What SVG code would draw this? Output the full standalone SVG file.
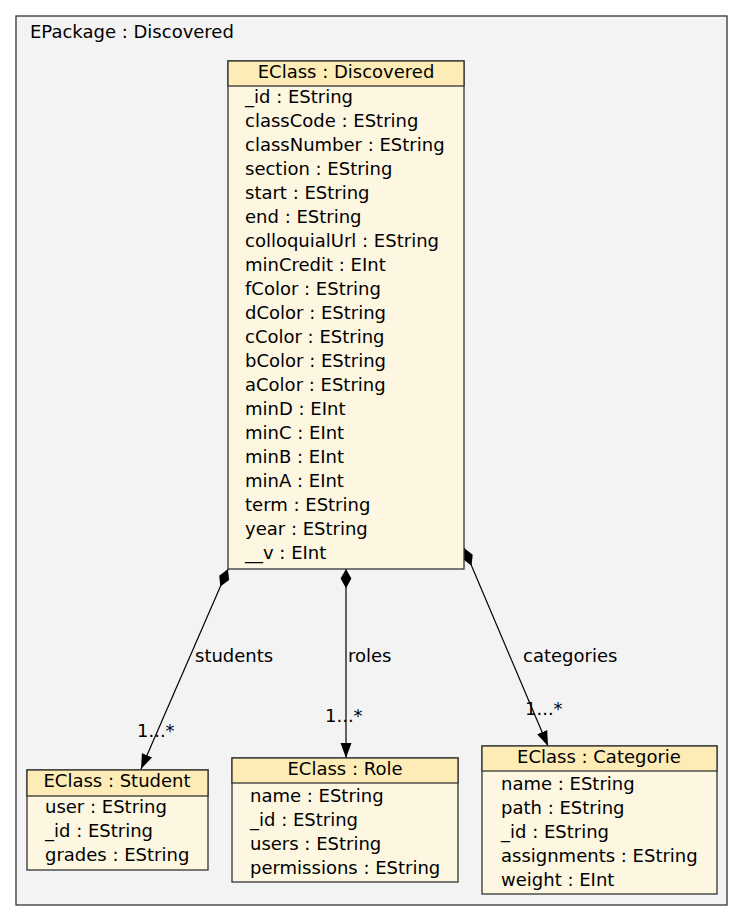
<svg xmlns="http://www.w3.org/2000/svg" width="744" height="921" viewBox="0 0 744 921">
<style>
text{font-family:"DejaVu Sans","Liberation Sans",sans-serif;font-size:18px;fill:#000}
.hdr{fill:#fdecb5;stroke:#333;stroke-width:1.3}
.body{fill:#fdf6e0;stroke:#333;stroke-width:1.3}
.mid{text-anchor:middle}
.conn{stroke:#000;stroke-width:1.2;fill:none}
</style>
<defs>
<marker id="dia" markerUnits="userSpaceOnUse" markerWidth="20" markerHeight="12" refX="0" refY="5" orient="auto" viewBox="0 0 16 10"><path d="M0,5 L8,0.5 L16,5 L8,9.5 z" fill="#000"/></marker>
<marker id="arr" markerUnits="userSpaceOnUse" markerWidth="16" markerHeight="12" refX="15" refY="6" orient="auto" viewBox="0 0 16 12"><path d="M0,0.5 L15,6 L0,11.5 z" fill="#000"/></marker>
</defs>
<g id="package">
<rect x="16" y="16" width="711" height="889" fill="#f3f3f3" stroke="#333" stroke-width="1.3"/>
<text x="30" y="38">EPackage : Discovered</text>
</g>
<g id="connectors">
<line class="conn" x1="228" y1="569" x2="141" y2="769" marker-start="url(#dia)" marker-end="url(#arr)"/>
<line class="conn" x1="346" y1="569" x2="346" y2="758" marker-start="url(#dia)" marker-end="url(#arr)"/>
<line class="conn" x1="464" y1="548" x2="548" y2="746" marker-start="url(#dia)" marker-end="url(#arr)"/>
<text x="195" y="662">students</text>
<text x="137" y="737">1...*</text>
<text x="348" y="662">roles</text>
<text x="325" y="722">1...*</text>
<text x="523" y="662">categories</text>
<text x="525" y="715">1...*</text>
</g>
<g id="Discovered">
<rect class="body" x="228" y="61" width="236" height="508"/>
<rect class="hdr" x="228" y="61" width="236" height="25"/>
<text class="mid" x="346" y="78">EClass : Discovered</text>
<text x="245" y="103">_id : EString</text>
<text x="245" y="127">classCode : EString</text>
<text x="245" y="151">classNumber : EString</text>
<text x="245" y="175">section : EString</text>
<text x="245" y="199">start : EString</text>
<text x="245" y="223">end : EString</text>
<text x="245" y="247">colloquialUrl : EString</text>
<text x="245" y="271">minCredit : EInt</text>
<text x="245" y="295">fColor : EString</text>
<text x="245" y="319">dColor : EString</text>
<text x="245" y="343">cColor : EString</text>
<text x="245" y="367">bColor : EString</text>
<text x="245" y="391">aColor : EString</text>
<text x="245" y="415">minD : EInt</text>
<text x="245" y="439">minC : EInt</text>
<text x="245" y="463">minB : EInt</text>
<text x="245" y="487">minA : EInt</text>
<text x="245" y="511">term : EString</text>
<text x="245" y="535">year : EString</text>
<text x="245" y="559">__v : EInt</text>
</g>
<g id="Student">
<rect class="body" x="27" y="770" width="181" height="100"/>
<rect class="hdr" x="27" y="770" width="181" height="26"/>
<text class="mid" x="117" y="787">EClass : Student</text>
<text x="45" y="813">user : EString</text>
<text x="45" y="837">_id : EString</text>
<text x="45" y="861">grades : EString</text>
</g>
<g id="Role">
<rect class="body" x="232" y="758" width="226" height="124"/>
<rect class="hdr" x="232" y="758" width="226" height="25"/>
<text class="mid" x="345" y="775">EClass : Role</text>
<text x="250" y="802">name : EString</text>
<text x="250" y="826">_id : EString</text>
<text x="250" y="850">users : EString</text>
<text x="250" y="874">permissions : EString</text>
</g>
<g id="Categorie">
<rect class="body" x="482" y="746" width="235" height="148"/>
<rect class="hdr" x="482" y="746" width="235" height="25"/>
<text class="mid" x="599" y="763">EClass : Categorie</text>
<text x="501" y="790">name : EString</text>
<text x="501" y="814">path : EString</text>
<text x="501" y="838">_id : EString</text>
<text x="501" y="862">assignments : EString</text>
<text x="501" y="886">weight : EInt</text>
</g>
</svg>
